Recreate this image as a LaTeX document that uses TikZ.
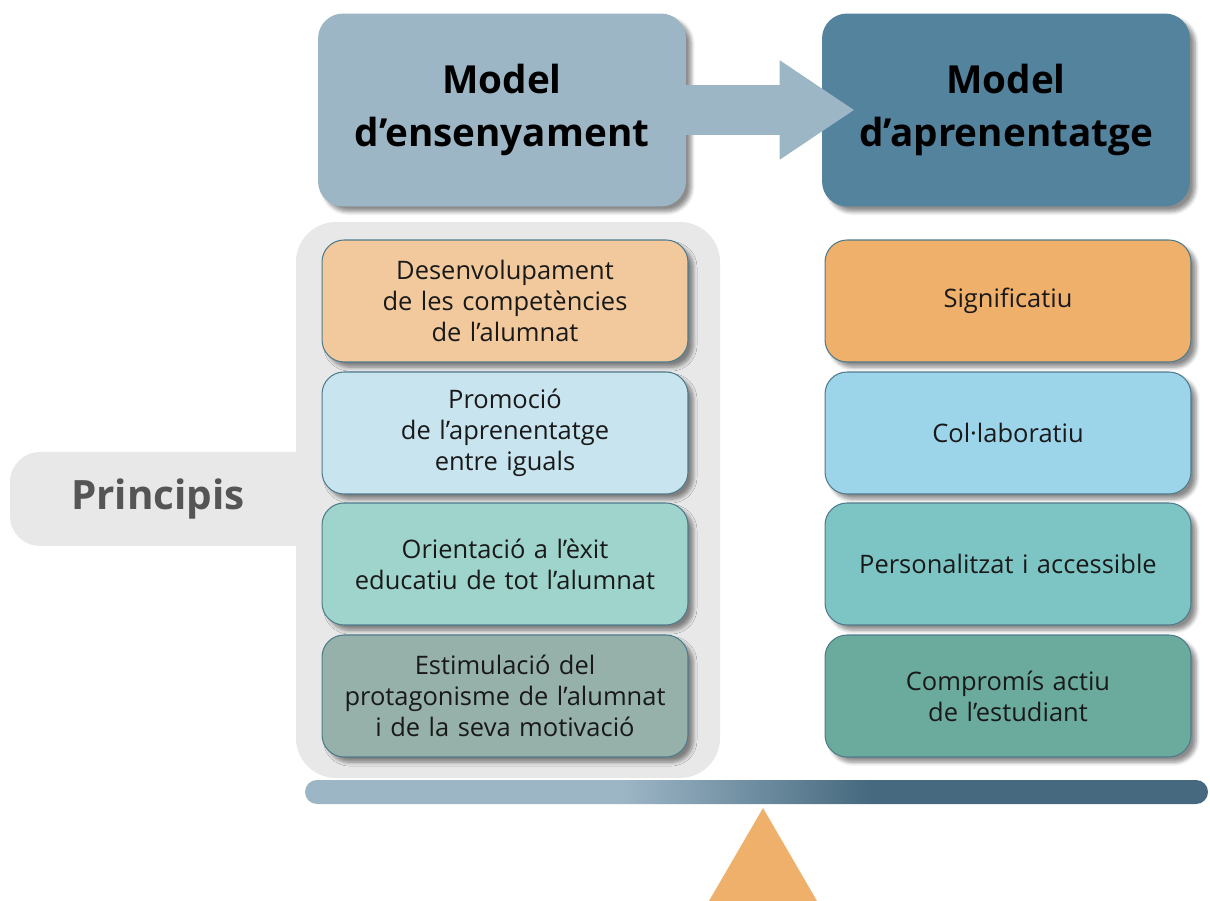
\documentclass[tikz,border=0pt]{standalone}
\usepackage{fontspec}
\setmainfont{Open Sans}
\usetikzlibrary{arrows.meta,shadows.blur}

\definecolor{hdlight}{HTML}{9DB6C6}
\definecolor{hddark}{HTML}{54839E}
\definecolor{bardark}{HTML}{46697F}
\definecolor{panelgray}{HTML}{E8E8E8}
\definecolor{boxedge}{HTML}{4F7B8B}
\definecolor{orlight}{HTML}{F1C99D}
\definecolor{bllight}{HTML}{C8E4EF}
\definecolor{tllight}{HTML}{9ED4CC}
\definecolor{grlight}{HTML}{95B1A9}
\definecolor{ordark}{HTML}{EFB06C}
\definecolor{bldark}{HTML}{9CD4EA}
\definecolor{tldark}{HTML}{7DC5C5}
\definecolor{grdark}{HTML}{6BAB9D}
\definecolor{textgray}{HTML}{555555}

\pgfdeclarehorizontalshading{barshade}{100bp}{color(0bp)=(hdlight); color(42.5bp)=(hdlight); color(56.3bp)=(bardark); color(100bp)=(bardark)}

\begin{document}
\begin{tikzpicture}
[x=0.02cm,y=-0.02cm,
header/.style = {rounded corners=0.5cm, minimum width=7.36cm, minimum height=3.86cm, align=center,
  font=\fontsize{22}{30}\selectfont\bfseries, blur shadow={shadow xshift=3pt, shadow yshift=-3pt, shadow blur steps=6, shadow opacity=45}},
item/.style = {draw=boxedge, line width=0.6pt, rounded corners=0.44cm, minimum width=7.32cm, minimum height=2.44cm,
  align=center, text width=6.9cm, font=\fontsize{14.5}{17.6}\selectfont, text=black!90,
  blur shadow={shadow xshift=3pt, shadow yshift=-3pt, shadow blur steps=6, shadow opacity=45}},
]
\useasboundingbox (0,0) rectangle (1210,901);
% principles panel
\fill[panelgray, rounded corners=0.6cm] (10,452) rectangle (330,546);
\fill[panelgray, rounded corners=0.8cm] (296,222) rectangle (720,778);
\node (prin) at (158,499) [font=\fontsize{23}{28}\selectfont\bfseries, text=textgray] {Principis};
% headers
\node (ens) at (502,110) [header, fill=hdlight] {Model\\d’ensenyament};
\node (apr) at (1006,110) [header, fill=hddark] {Model\\d’aprenentatge};
\draw[hdlight, line width=1cm, -{Triangle[length=1.5cm, width=1.88cm]}] (ens.east) -- ([xshift=0.66cm]apr.west);
% left column
\node (p1) at (505,301) [item, fill=orlight] {Desenvolupament\\de les competències\\de l’alumnat};
\node (p2) at (505,433) [item, fill=bllight] {Promoció\\de l’aprenentatge\\entre iguals};
\node (p3) at (505,564) [item, fill=tllight] {Orientació a l’èxit\\educatiu de tot l’alumnat};
\node (p4) at (505,696) [item, fill=grlight] {Estimulació del\\protagonisme de l’alumnat\\i de la seva motivació};
% right column
\node (a1) at (1008,301) [item, fill=ordark] {Significatiu};
\node (a2) at (1008,433) [item, fill=bldark] {Col·laboratiu};
\node (a3) at (1008,564) [item, fill=tldark] {Personalitzat i accessible};
\node (a4) at (1008,696) [item, fill=grdark] {Compromís actiu\\de l’estudiant};
% balance
\shade[shading=barshade, rounded corners=0.24cm] (305,780) rectangle (1208,804);
\fill[ordark] (763,808) -- (817,901) -- (709,901) -- cycle;
\end{tikzpicture}
\end{document}
